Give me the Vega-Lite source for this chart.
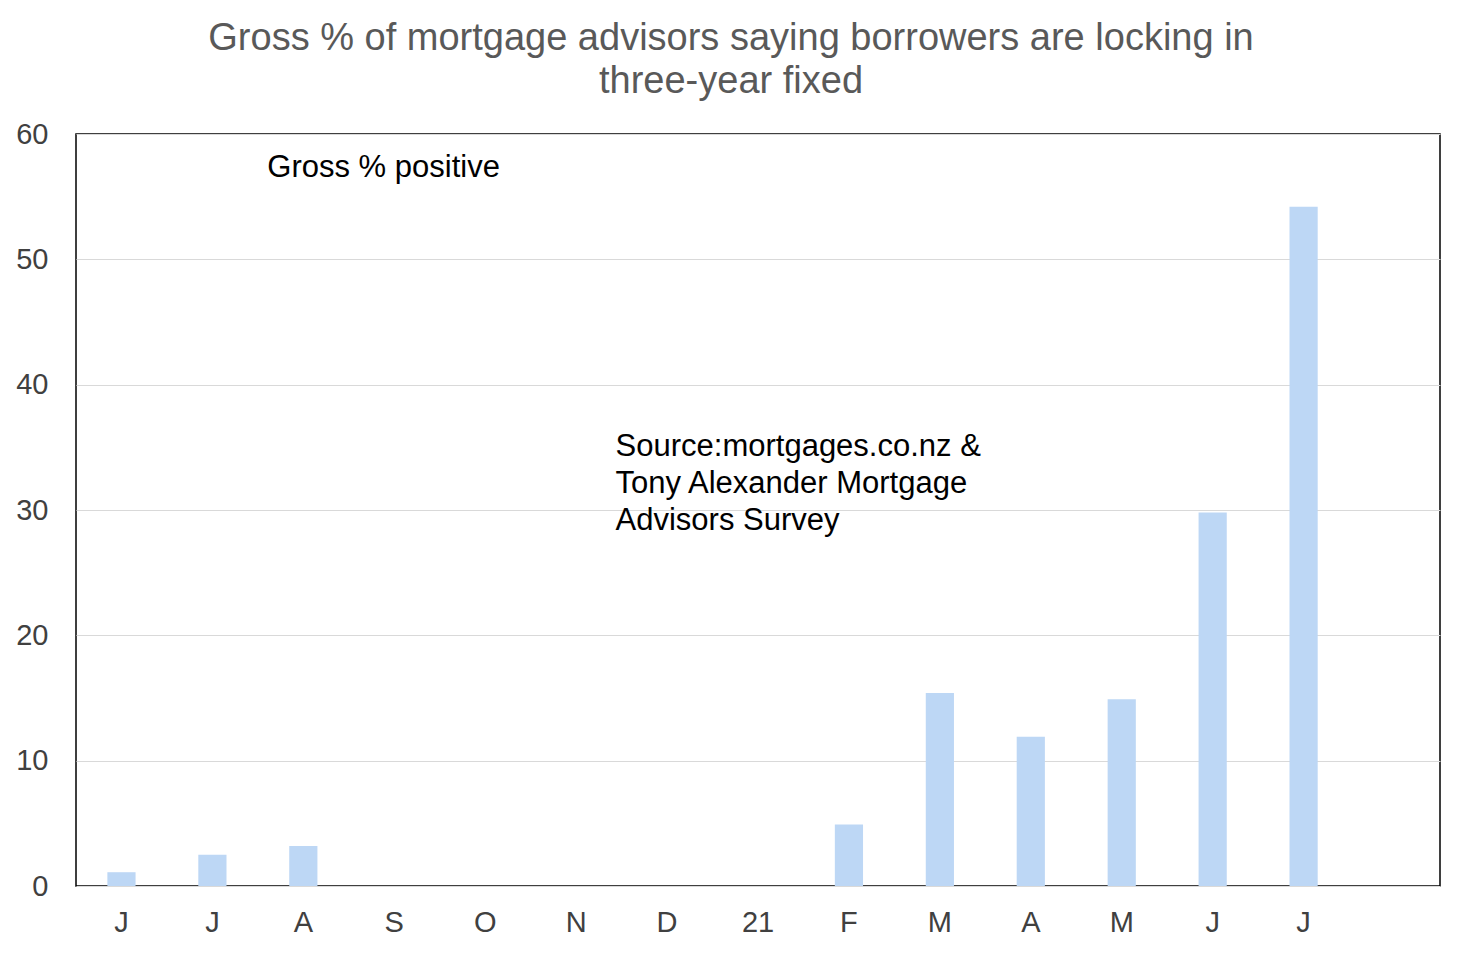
{
  "$schema": "https://vega.github.io/schema/vega-lite/v6.json",
  "autosize": "none",
  "width": 1364,
  "height": 752,
  "padding": {"left": 76, "top": 134, "right": 22, "bottom": 68},
  "background": "white",
  "config": {
    "font": "Liberation Sans",
    "view": {"stroke": "#000000", "strokeWidth": 1.5},
    "title": {"font": "Liberation Sans", "fontSize": 38, "fontWeight": "normal", "color": "#595959", "lineHeight": 43, "offset": 19, "anchor": "middle", "dx": -27}
  },
  "title": {"text": ["Gross % of mortgage advisors saying borrowers are locking in", "three-year fixed"]},
  "datasets": {
    "bars": [
      {"month": "Jun20", "value": 1.1},
      {"month": "Jul20", "value": 2.5},
      {"month": "Aug20", "value": 3.2},
      {"month": "Sep20", "value": 0},
      {"month": "Oct20", "value": 0},
      {"month": "Nov20", "value": 0},
      {"month": "Dec20", "value": 0},
      {"month": "Jan21", "value": 0},
      {"month": "Feb21", "value": 4.9},
      {"month": "Mar21", "value": 15.4},
      {"month": "Apr21", "value": 11.9},
      {"month": "May21", "value": 14.9},
      {"month": "Jun21", "value": 29.8},
      {"month": "Jul21", "value": 54.2}
    ],
    "note1": [
      {"month": "Aug20", "y": 57.3, "label": "Gross % positive"}
    ],
    "note2": [
      {"month": "Dec20", "y": 35.05, "label": "Source:mortgages.co.nz  &"},
      {"month": "Dec20", "y": 32.1, "label": "Tony Alexander  Mortgage"},
      {"month": "Dec20", "y": 29.15, "label": "Advisors  Survey"}
    ]
  },
  "encoding": {
    "x": {
      "field": "month", "type": "ordinal", "sort": null,
      "scale": {"domain": ["Jun20","Jul20","Aug20","Sep20","Oct20","Nov20","Dec20","Jan21","Feb21","Mar21","Apr21","May21","Jun21","Jul21","Aug21"], "paddingInner": 0.69, "paddingOuter": 0.345},
      "axis": {
        "title": null, "labelAngle": 0, "ticks": false, "domain": false,
        "labelExpr": "datum.value == 'Jan21' ? '21' : (datum.value == 'Aug21' ? '' : substring(datum.value, 0, 1))",
        "labelFontSize": 29, "labelColor": "#404040", "labelPadding": 22, "labelFont": "Liberation Sans"
      }
    }
  },
  "layer": [
    {
      "data": {"name": "bars"},
      "mark": {"type": "bar", "color": "#BDD7F5"},
      "encoding": {
        "y": {
          "field": "value", "type": "quantitative",
          "scale": {"domain": [0, 60], "nice": false},
          "axis": {
            "title": null, "values": [0, 10, 20, 30, 40, 50, 60], "ticks": false, "domain": false,
            "grid": true, "gridColor": "#D9D9D9", "gridWidth": 1.2,
            "labelFontSize": 29, "labelColor": "#404040", "labelPadding": 28, "labelFont": "Liberation Sans"
          }
        }
      }
    },
    {
      "data": {"name": "note1"},
      "mark": {"type": "text", "align": "left", "baseline": "middle", "fontSize": 31, "color": "#000000", "font": "Liberation Sans", "dx": -36},
      "encoding": {
        "y": {"field": "y", "type": "quantitative"},
        "text": {"field": "label"}
      }
    },
    {
      "data": {"name": "note2"},
      "mark": {"type": "text", "align": "left", "baseline": "middle", "fontSize": 31, "color": "#000000", "font": "Liberation Sans", "dx": -51.5},
      "encoding": {
        "y": {"field": "y", "type": "quantitative"},
        "text": {"field": "label"}
      }
    }
  ]
}
